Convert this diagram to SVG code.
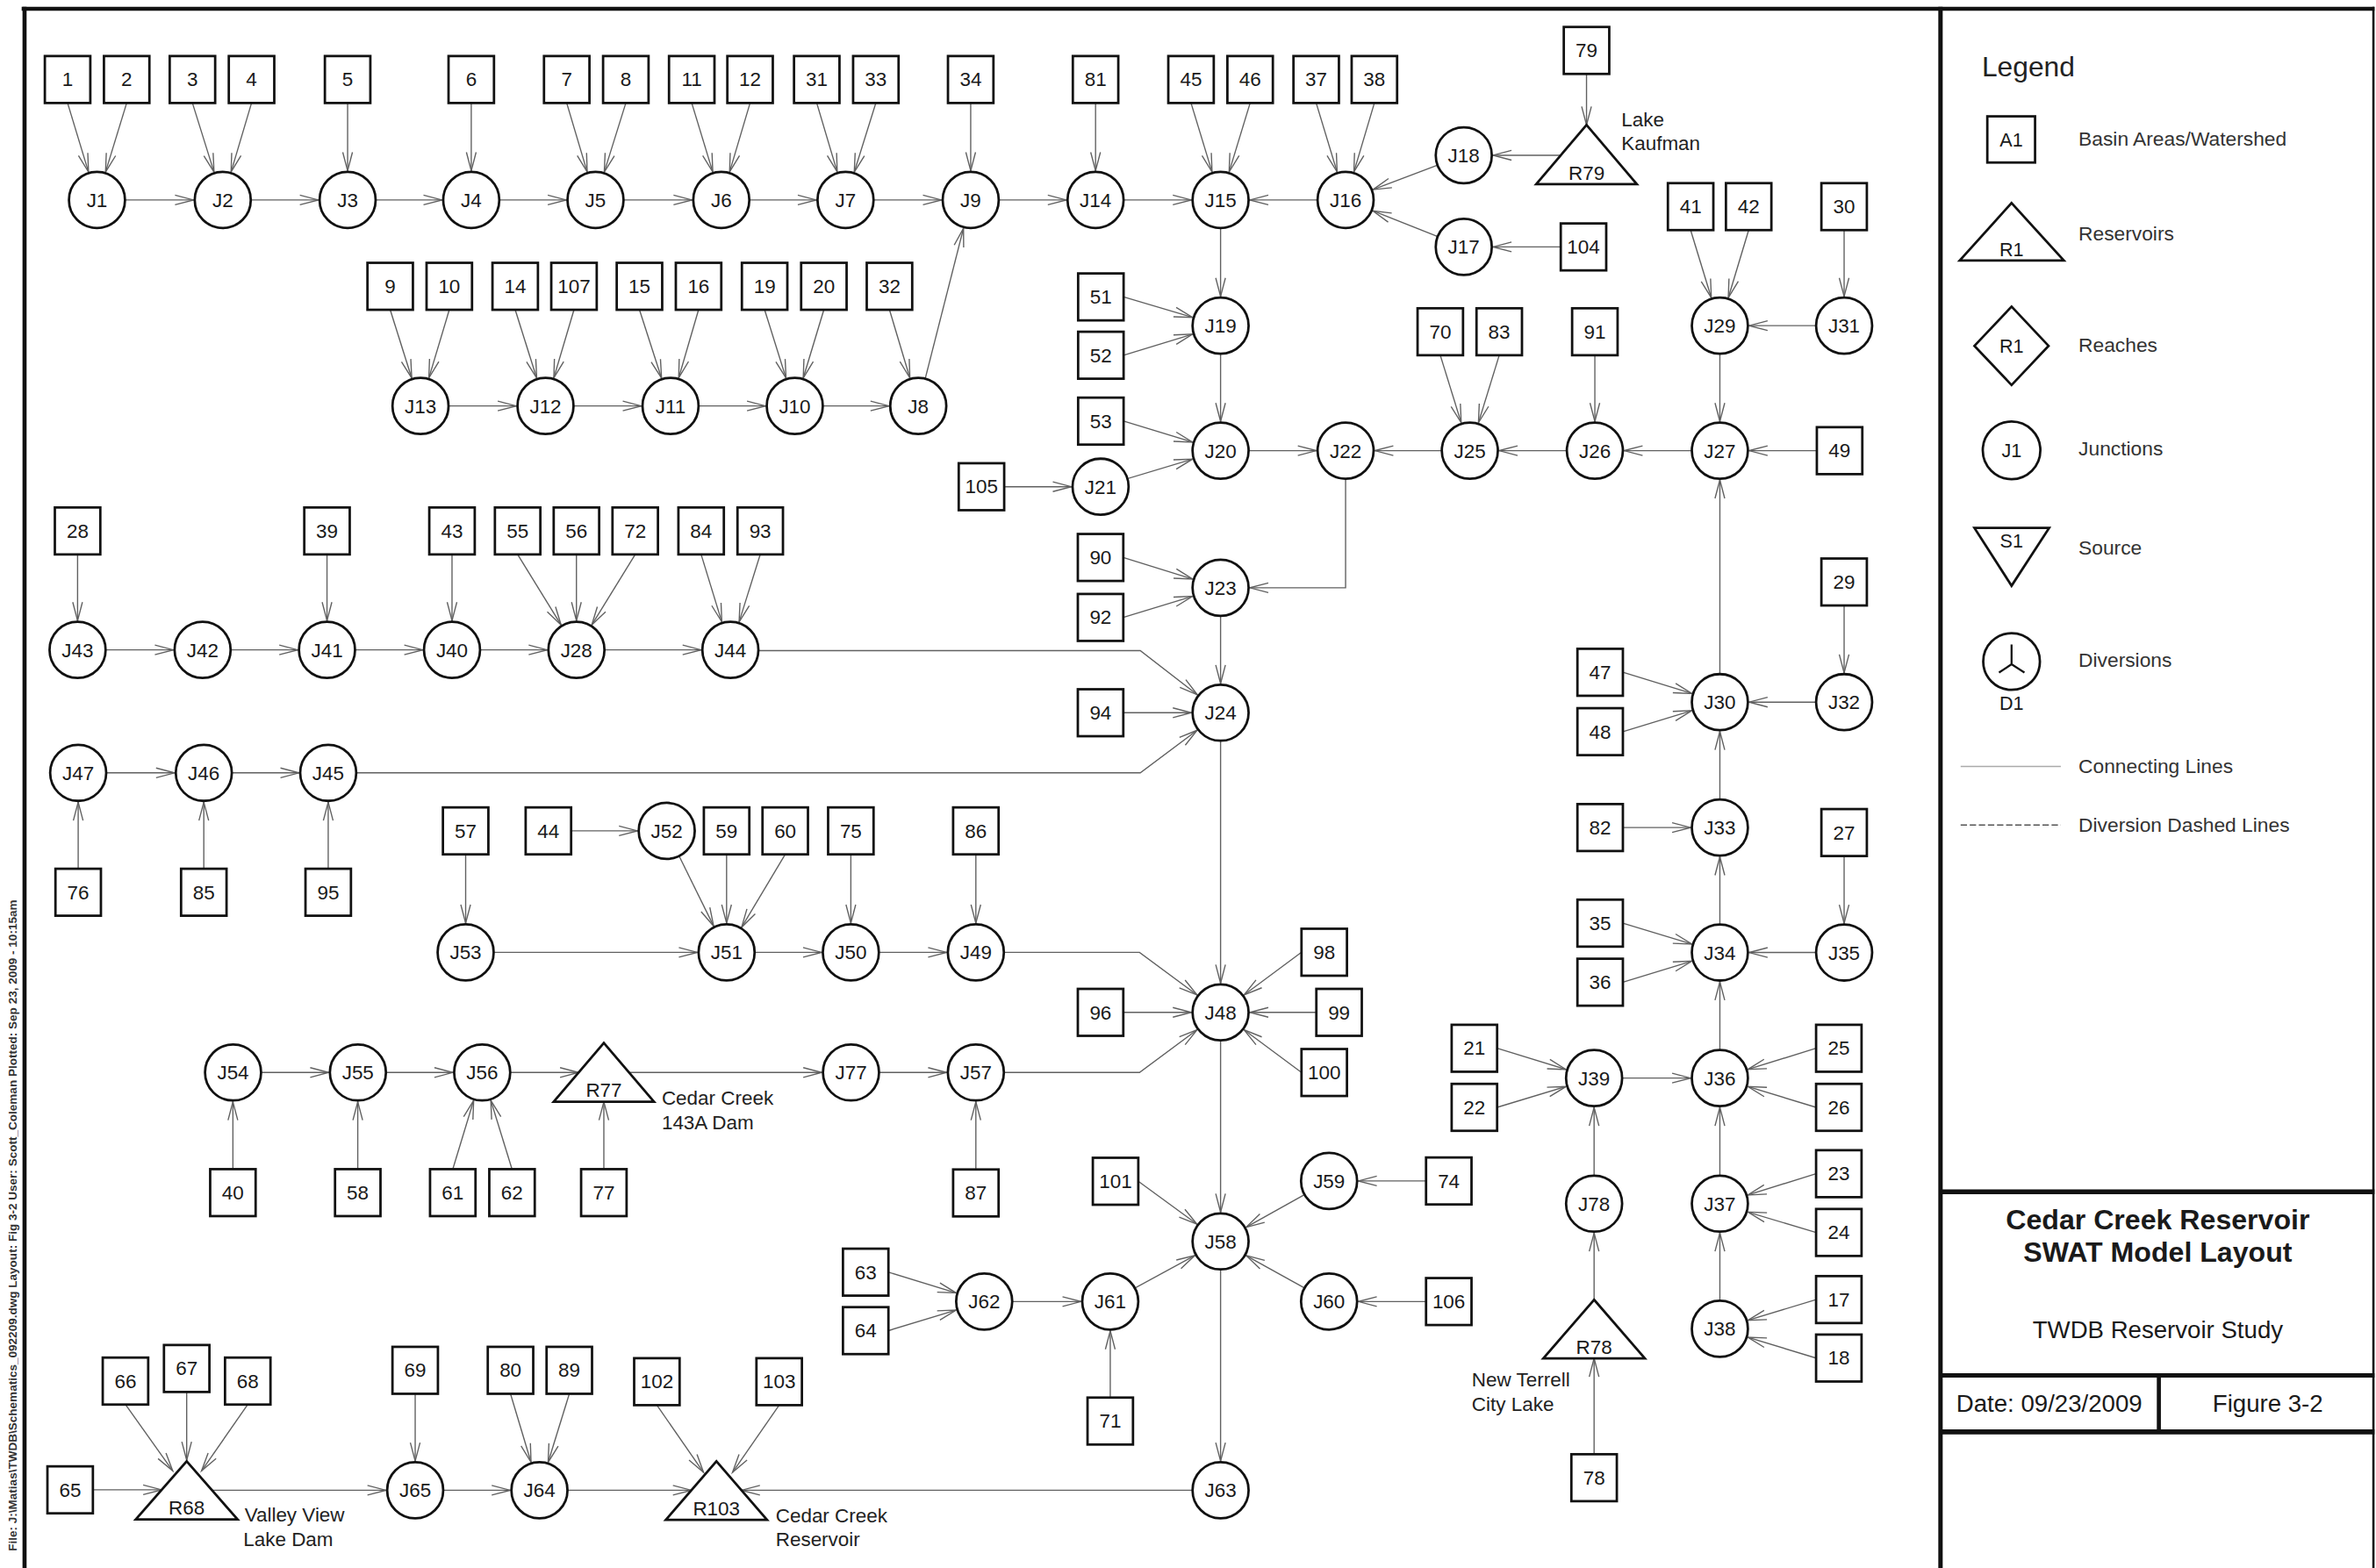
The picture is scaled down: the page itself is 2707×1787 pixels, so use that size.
<svg xmlns="http://www.w3.org/2000/svg" width="2707" height="1787" viewBox="0 0 2707 1787">
<style>
.b rect{fill:#fff;stroke:#111;stroke-width:1.6}
.j circle,.r polygon{fill:#fff;stroke:#111;stroke-width:1.6}
text{font-family:"Liberation Sans",Arial,sans-serif;font-size:13px;text-anchor:middle;fill:#1a1a1a}
.lbl{text-anchor:start;font-size:13px;fill:#222}
#conn line,#conn polyline{stroke:#606060;stroke-width:0.8;fill:none}
#conn .c{marker-end:url(#a)}
#conn .d{marker-end:url(#e)}
.fr{stroke:#111;fill:none}
.lg{text-anchor:start;font-size:13.2px;fill:#333}
</style>
<defs>
<marker id="a" markerUnits="userSpaceOnUse" orient="auto" markerWidth="1" markerHeight="1" refX="0" refY="0" style="overflow:visible"><path d="M-31.5,-3.2 L-19.3,0 L-31.5,3.2" fill="none" stroke="#606060" stroke-width="0.8"/></marker>
<marker id="e" markerUnits="userSpaceOnUse" orient="auto" markerWidth="1" markerHeight="1" refX="0" refY="0" style="overflow:visible"><path d="M-12.2,-3.2 L0,0 L-12.2,3.2" fill="none" stroke="#606060" stroke-width="0.8"/></marker>
</defs>
<rect x="0" y="0" width="2707" height="1787" fill="#fff"/>
<g transform="scale(1.7264)">
<g id="frame">
<line class="fr" x1="14.3" y1="5.8" x2="1567" y2="5.8" stroke-width="2.6"/>
<line class="fr" x1="16.2" y1="4.5" x2="16.2" y2="1040" stroke-width="2.7"/>
<line class="fr" x1="1280.6" y1="4.5" x2="1280.6" y2="1040" stroke-width="2.9"/>
<line class="fr" x1="1566.3" y1="4.5" x2="1566.3" y2="1040" stroke-width="1.5"/>
<line class="fr" x1="1280.6" y1="786.8" x2="1567" y2="786.8" stroke-width="3.2"/>
<line class="fr" x1="1280.6" y1="908" x2="1567" y2="908" stroke-width="2.9"/>
<line class="fr" x1="1280.6" y1="945.3" x2="1567" y2="945.3" stroke-width="3.3"/>
<line class="fr" x1="1424.7" y1="908" x2="1424.7" y2="945.3" stroke-width="2.7"/>
<text x="0" y="0" transform="translate(10.8,1024) rotate(-90)" style="text-anchor:start;font-size:7px;font-weight:bold;fill:#333" textLength="430" lengthAdjust="spacingAndGlyphs">File: J:\Matias\TWDB\Schematics_092209.dwg  Layout: Fig 3-2  User: Scott_Coleman  Plotted: Sep 23, 2009 - 10:15am</text>
</g>
<g id="conn">
<line class="c" x1="44.6" y1="68" x2="64" y2="132"/>
<line class="c" x1="83.6" y1="68" x2="64" y2="132"/>
<line class="c" x1="127" y1="68" x2="147" y2="132"/>
<line class="c" x1="166" y1="68" x2="147" y2="132"/>
<line class="c" x1="229.4" y1="68" x2="229.4" y2="132"/>
<line class="c" x1="311" y1="68" x2="311" y2="132"/>
<line class="c" x1="374" y1="68" x2="393" y2="132"/>
<line class="c" x1="413" y1="68" x2="393" y2="132"/>
<line class="c" x1="456.5" y1="68" x2="476" y2="132"/>
<line class="c" x1="495" y1="68" x2="476" y2="132"/>
<line class="c" x1="539" y1="68" x2="558" y2="132"/>
<line class="c" x1="578" y1="68" x2="558" y2="132"/>
<line class="c" x1="640.6" y1="68" x2="640.6" y2="132"/>
<line class="c" x1="723" y1="68" x2="723" y2="132"/>
<line class="c" x1="786" y1="68" x2="805.5" y2="132"/>
<line class="c" x1="825" y1="68" x2="805.5" y2="132"/>
<line class="c" x1="868.6" y1="68" x2="888" y2="132"/>
<line class="c" x1="907" y1="68" x2="888" y2="132"/>
<line class="c" x1="64" y1="132" x2="147" y2="132"/>
<line class="c" x1="147" y1="132" x2="229.4" y2="132"/>
<line class="c" x1="229.4" y1="132" x2="311" y2="132"/>
<line class="c" x1="311" y1="132" x2="393" y2="132"/>
<line class="c" x1="393" y1="132" x2="476" y2="132"/>
<line class="c" x1="476" y1="132" x2="558" y2="132"/>
<line class="c" x1="558" y1="132" x2="640.6" y2="132"/>
<line class="c" x1="640.6" y1="132" x2="723" y2="132"/>
<line class="c" x1="723" y1="132" x2="805.5" y2="132"/>
<line class="c" x1="888" y1="132" x2="805.5" y2="132"/>
<line class="d" x1="1047" y1="48.8" x2="1047" y2="82.5"/>
<line class="c" x1="1047" y1="102.5" x2="966" y2="102.5"/>
<line class="c" x1="966" y1="102.5" x2="888" y2="132"/>
<line class="c" x1="966" y1="163" x2="888" y2="132"/>
<line class="c" x1="1030" y1="163" x2="966" y2="163"/>
<line class="c" x1="257.5" y1="204.5" x2="277.5" y2="268"/>
<line class="c" x1="296.5" y1="204.5" x2="277.5" y2="268"/>
<line class="c" x1="340" y1="204.5" x2="360" y2="268"/>
<line class="c" x1="378.8" y1="204.5" x2="360" y2="268"/>
<line class="c" x1="422" y1="204.5" x2="442.5" y2="268"/>
<line class="c" x1="461" y1="204.5" x2="442.5" y2="268"/>
<line class="c" x1="504.6" y1="204.5" x2="524.5" y2="268"/>
<line class="c" x1="543.7" y1="204.5" x2="524.5" y2="268"/>
<line class="c" x1="587" y1="204.5" x2="606" y2="268"/>
<line class="c" x1="277.5" y1="268" x2="360" y2="268"/>
<line class="c" x1="360" y1="268" x2="442.5" y2="268"/>
<line class="c" x1="442.5" y1="268" x2="524.5" y2="268"/>
<line class="c" x1="524.5" y1="268" x2="606" y2="268"/>
<line class="c" x1="606" y1="268" x2="640.6" y2="132"/>
<line class="c" x1="805.5" y1="132" x2="805.5" y2="215"/>
<line class="c" x1="741.5" y1="196" x2="805.5" y2="215"/>
<line class="c" x1="741.5" y1="234.5" x2="805.5" y2="215"/>
<line class="c" x1="805.5" y1="215" x2="805.5" y2="297.5"/>
<line class="c" x1="741.5" y1="278" x2="805.5" y2="297.5"/>
<line class="c" x1="726.3" y1="321.3" x2="805.5" y2="297.5"/>
<line class="c" x1="662.7" y1="321.3" x2="726.3" y2="321.3"/>
<line class="c" x1="805.5" y1="297.5" x2="888" y2="297.5"/>
<line class="c" x1="970" y1="297.5" x2="888" y2="297.5"/>
<line class="c" x1="1052.5" y1="297.5" x2="970" y2="297.5"/>
<line class="c" x1="1135" y1="297.5" x2="1052.5" y2="297.5"/>
<line class="c" x1="1199" y1="297.5" x2="1135" y2="297.5"/>
<line class="c" x1="950.5" y1="234.5" x2="970" y2="297.5"/>
<line class="c" x1="989.4" y1="234.5" x2="970" y2="297.5"/>
<line class="c" x1="1052.5" y1="234.5" x2="1052.5" y2="297.5"/>
<line class="c" x1="1115.7" y1="151.9" x2="1135" y2="215"/>
<line class="c" x1="1154" y1="151.9" x2="1135" y2="215"/>
<line class="c" x1="1217" y1="151.9" x2="1217" y2="215"/>
<line class="c" x1="1217" y1="215" x2="1135" y2="215"/>
<line class="c" x1="1135" y1="215" x2="1135" y2="297.5"/>
<line class="c" x1="1135" y1="463.5" x2="1135" y2="297.5"/>
<polyline class="c" points="888,297.5 888,388 805.5,388"/>
<line class="c" x1="741.3" y1="368" x2="805.5" y2="388"/>
<line class="c" x1="741.3" y1="407.6" x2="805.5" y2="388"/>
<line class="c" x1="805.5" y1="388" x2="805.5" y2="470.5"/>
<line class="c" x1="741.3" y1="470.5" x2="805.5" y2="470.5"/>
<polyline class="c" points="482,429.5 752.5,429.5 805.5,470.5"/>
<polyline class="c" points="216.6,510.2 752.5,510.2 805.5,470.5"/>
<line class="c" x1="51.2" y1="429" x2="133.7" y2="429"/>
<line class="c" x1="133.7" y1="429" x2="215.8" y2="429"/>
<line class="c" x1="215.8" y1="429" x2="298.3" y2="429"/>
<line class="c" x1="298.3" y1="429" x2="380.4" y2="429"/>
<line class="c" x1="380.4" y1="429" x2="482" y2="429"/>
<line class="c" x1="51.2" y1="366" x2="51.2" y2="429"/>
<line class="c" x1="215.8" y1="366" x2="215.8" y2="429"/>
<line class="c" x1="298.3" y1="366" x2="298.3" y2="429"/>
<line class="c" x1="341.6" y1="366" x2="380.4" y2="429"/>
<line class="c" x1="380.4" y1="366" x2="380.4" y2="429"/>
<line class="c" x1="419.2" y1="366" x2="380.4" y2="429"/>
<line class="c" x1="462.7" y1="366" x2="482" y2="429"/>
<line class="c" x1="501.7" y1="366" x2="482" y2="429"/>
<line class="c" x1="51.6" y1="510.2" x2="134.5" y2="510.2"/>
<line class="c" x1="134.5" y1="510.2" x2="216.6" y2="510.2"/>
<line class="c" x1="51.6" y1="573.5" x2="51.6" y2="510.2"/>
<line class="c" x1="134.5" y1="573.5" x2="134.5" y2="510.2"/>
<line class="c" x1="216.6" y1="573.5" x2="216.6" y2="510.2"/>
<line class="c" x1="307.3" y1="564" x2="307.3" y2="628.7"/>
<line class="c" x1="376.9" y1="548.5" x2="440" y2="548.5"/>
<line class="c" x1="440" y1="548.5" x2="479.5" y2="628.7"/>
<line class="c" x1="479.5" y1="564" x2="479.5" y2="628.7"/>
<line class="c" x1="518.2" y1="564" x2="479.5" y2="628.7"/>
<line class="c" x1="561.5" y1="564" x2="561.5" y2="628.7"/>
<line class="c" x1="644" y1="564" x2="644" y2="628.7"/>
<line class="c" x1="307.3" y1="628.7" x2="479.5" y2="628.7"/>
<line class="c" x1="479.5" y1="628.7" x2="561.5" y2="628.7"/>
<line class="c" x1="561.5" y1="628.7" x2="644" y2="628.7"/>
<polyline class="c" points="644,628.7 752,628.7 805.5,668.3"/>
<line class="c" x1="805.5" y1="470.5" x2="805.5" y2="668.3"/>
<line class="c" x1="741.3" y1="668.3" x2="805.5" y2="668.3"/>
<line class="c" x1="858.9" y1="628.6" x2="805.5" y2="668.3"/>
<line class="c" x1="868.7" y1="668.3" x2="805.5" y2="668.3"/>
<line class="c" x1="858.9" y1="708" x2="805.5" y2="668.3"/>
<polyline class="c" points="644,708 752,708 805.5,668.3"/>
<line class="c" x1="153.8" y1="708" x2="236.2" y2="708"/>
<line class="c" x1="236.2" y1="708" x2="318.2" y2="708"/>
<line class="d" x1="318.2" y1="708" x2="381.8" y2="708"/>
<line class="c" x1="398.5" y1="708" x2="561.6" y2="708"/>
<line class="c" x1="561.6" y1="708" x2="644" y2="708"/>
<line class="c" x1="153.7" y1="771.8" x2="153.7" y2="708"/>
<line class="c" x1="236.1" y1="771.8" x2="236.1" y2="708"/>
<line class="c" x1="298.8" y1="771.8" x2="318.2" y2="708"/>
<line class="c" x1="337.9" y1="771.8" x2="318.2" y2="708"/>
<line class="d" x1="398.5" y1="771.8" x2="398.5" y2="727.3"/>
<line class="c" x1="644" y1="772" x2="644" y2="708"/>
<line class="c" x1="805.5" y1="668.3" x2="805.5" y2="819.5"/>
<line class="c" x1="751.2" y1="779.8" x2="805.5" y2="819.5"/>
<line class="c" x1="877.1" y1="779.6" x2="805.5" y2="819.5"/>
<line class="c" x1="941.1" y1="779.6" x2="877.1" y2="779.6"/>
<line class="c" x1="877.1" y1="859.2" x2="805.5" y2="819.5"/>
<line class="c" x1="941.1" y1="859.2" x2="877.1" y2="859.2"/>
<line class="c" x1="732.7" y1="859.2" x2="805.5" y2="819.5"/>
<line class="c" x1="649.5" y1="859.2" x2="732.7" y2="859.2"/>
<line class="c" x1="586.3" y1="839.8" x2="649.5" y2="859.2"/>
<line class="c" x1="586.3" y1="878.4" x2="649.5" y2="859.2"/>
<line class="c" x1="732.7" y1="922.6" x2="732.7" y2="859.2"/>
<line class="c" x1="805.5" y1="819.5" x2="805.5" y2="983.8"/>
<line class="d" x1="805.5" y1="983.8" x2="489.3" y2="983.8"/>
<line class="d" x1="356" y1="983.8" x2="456.3" y2="983.8"/>
<line class="d" x1="433.5" y1="927.6" x2="464.3" y2="972"/>
<line class="d" x1="514.2" y1="927.6" x2="483.4" y2="972"/>
<line class="c" x1="274" y1="983.8" x2="356" y2="983.8"/>
<line class="c" x1="123.2" y1="983.8" x2="274" y2="983.8"/>
<line class="d" x1="61.3" y1="983.5" x2="106.7" y2="983.5"/>
<line class="d" x1="82.8" y1="927.2" x2="114" y2="971"/>
<line class="d" x1="123.2" y1="918.9" x2="123.2" y2="964"/>
<line class="d" x1="163.5" y1="927.2" x2="133" y2="971"/>
<line class="c" x1="274" y1="920.1" x2="274" y2="983.8"/>
<line class="c" x1="336.9" y1="920.1" x2="356" y2="983.8"/>
<line class="c" x1="375.7" y1="920.1" x2="356" y2="983.8"/>
<line class="c" x1="1217" y1="399.7" x2="1217" y2="463.5"/>
<line class="c" x1="1217" y1="463.5" x2="1135" y2="463.5"/>
<line class="c" x1="1071" y1="443.8" x2="1135" y2="463.5"/>
<line class="c" x1="1071" y1="483" x2="1135" y2="463.5"/>
<line class="c" x1="1135" y1="546.3" x2="1135" y2="463.5"/>
<line class="c" x1="1071" y1="546.3" x2="1135" y2="546.3"/>
<line class="c" x1="1135" y1="628.8" x2="1135" y2="546.3"/>
<line class="c" x1="1071" y1="609.4" x2="1135" y2="628.8"/>
<line class="c" x1="1071" y1="648.4" x2="1135" y2="628.8"/>
<line class="c" x1="1217" y1="628.8" x2="1135" y2="628.8"/>
<line class="c" x1="1217" y1="565.1" x2="1217" y2="628.8"/>
<line class="c" x1="1135" y1="711.7" x2="1135" y2="628.8"/>
<line class="c" x1="988" y1="692" x2="1052" y2="711.7"/>
<line class="c" x1="988" y1="731" x2="1052" y2="711.7"/>
<line class="c" x1="1052" y1="711.7" x2="1135" y2="711.7"/>
<line class="c" x1="1198.5" y1="692" x2="1135" y2="711.7"/>
<line class="c" x1="1198.5" y1="731" x2="1135" y2="711.7"/>
<line class="c" x1="1135" y1="794.6" x2="1135" y2="711.7"/>
<line class="c" x1="1198.5" y1="774.8" x2="1135" y2="794.6"/>
<line class="c" x1="1198.5" y1="813.6" x2="1135" y2="794.6"/>
<line class="c" x1="1135" y1="877.2" x2="1135" y2="794.6"/>
<line class="c" x1="1198.5" y1="857.9" x2="1135" y2="877.2"/>
<line class="c" x1="1198.5" y1="896.5" x2="1135" y2="877.2"/>
<line class="c" x1="1052" y1="794.6" x2="1052" y2="711.7"/>
<line class="c" x1="1052" y1="877" x2="1052" y2="794.6"/>
<line class="d" x1="1052" y1="960" x2="1052" y2="896.7"/>
</g>
<g id="nodes">
<g id="n1" class="b"><rect x="29.6" y="37" width="30" height="31"/><text x="44.6" y="57">1</text></g>
<g id="n2" class="b"><rect x="68.6" y="37" width="30" height="31"/><text x="83.6" y="57">2</text></g>
<g id="n3" class="b"><rect x="112" y="37" width="30" height="31"/><text x="127" y="57">3</text></g>
<g id="n4" class="b"><rect x="151" y="37" width="30" height="31"/><text x="166" y="57">4</text></g>
<g id="n5" class="b"><rect x="214.4" y="37" width="30" height="31"/><text x="229.4" y="57">5</text></g>
<g id="n6" class="b"><rect x="296" y="37" width="30" height="31"/><text x="311" y="57">6</text></g>
<g id="n7" class="b"><rect x="359" y="37" width="30" height="31"/><text x="374" y="57">7</text></g>
<g id="n8" class="b"><rect x="398" y="37" width="30" height="31"/><text x="413" y="57">8</text></g>
<g id="n11" class="b"><rect x="441.5" y="37" width="30" height="31"/><text x="456.5" y="57">11</text></g>
<g id="n12" class="b"><rect x="480" y="37" width="30" height="31"/><text x="495" y="57">12</text></g>
<g id="n31" class="b"><rect x="524" y="37" width="30" height="31"/><text x="539" y="57">31</text></g>
<g id="n33" class="b"><rect x="563" y="37" width="30" height="31"/><text x="578" y="57">33</text></g>
<g id="n34" class="b"><rect x="625.6" y="37" width="30" height="31"/><text x="640.6" y="57">34</text></g>
<g id="n81" class="b"><rect x="708" y="37" width="30" height="31"/><text x="723" y="57">81</text></g>
<g id="n45" class="b"><rect x="771" y="37" width="30" height="31"/><text x="786" y="57">45</text></g>
<g id="n46" class="b"><rect x="810" y="37" width="30" height="31"/><text x="825" y="57">46</text></g>
<g id="n37" class="b"><rect x="853.6" y="37" width="30" height="31"/><text x="868.6" y="57">37</text></g>
<g id="n38" class="b"><rect x="892" y="37" width="30" height="31"/><text x="907" y="57">38</text></g>
<g id="n79" class="b"><rect x="1032" y="17.8" width="30" height="31"/><text x="1047" y="37.8">79</text></g>
<g id="n104" class="b"><rect x="1030" y="147.5" width="30" height="31"/><text x="1045" y="167.5">104</text></g>
<g id="n9" class="b"><rect x="242.5" y="173.5" width="30" height="31"/><text x="257.5" y="193.5">9</text></g>
<g id="n10" class="b"><rect x="281.5" y="173.5" width="30" height="31"/><text x="296.5" y="193.5">10</text></g>
<g id="n14" class="b"><rect x="325" y="173.5" width="30" height="31"/><text x="340" y="193.5">14</text></g>
<g id="n107" class="b"><rect x="363.8" y="173.5" width="30" height="31"/><text x="378.8" y="193.5">107</text></g>
<g id="n15" class="b"><rect x="407" y="173.5" width="30" height="31"/><text x="422" y="193.5">15</text></g>
<g id="n16" class="b"><rect x="446" y="173.5" width="30" height="31"/><text x="461" y="193.5">16</text></g>
<g id="n19" class="b"><rect x="489.6" y="173.5" width="30" height="31"/><text x="504.6" y="193.5">19</text></g>
<g id="n20" class="b"><rect x="528.7" y="173.5" width="30" height="31"/><text x="543.7" y="193.5">20</text></g>
<g id="n32" class="b"><rect x="572" y="173.5" width="30" height="31"/><text x="587" y="193.5">32</text></g>
<g id="n51" class="b"><rect x="711.5" y="180.5" width="30" height="31"/><text x="726.5" y="200.5">51</text></g>
<g id="n52" class="b"><rect x="711.5" y="219" width="30" height="31"/><text x="726.5" y="239">52</text></g>
<g id="n53" class="b"><rect x="711.5" y="262.5" width="30" height="31"/><text x="726.5" y="282.5">53</text></g>
<g id="n105" class="b"><rect x="632.7" y="305.8" width="30" height="31"/><text x="647.7" y="325.8">105</text></g>
<g id="n70" class="b"><rect x="935.5" y="203.5" width="30" height="31"/><text x="950.5" y="223.5">70</text></g>
<g id="n83" class="b"><rect x="974.4" y="203.5" width="30" height="31"/><text x="989.4" y="223.5">83</text></g>
<g id="n91" class="b"><rect x="1037.5" y="203.5" width="30" height="31"/><text x="1052.5" y="223.5">91</text></g>
<g id="n41" class="b"><rect x="1100.7" y="120.9" width="30" height="31"/><text x="1115.7" y="140.9">41</text></g>
<g id="n42" class="b"><rect x="1139" y="120.9" width="30" height="31"/><text x="1154" y="140.9">42</text></g>
<g id="n30" class="b"><rect x="1202" y="120.9" width="30" height="31"/><text x="1217" y="140.9">30</text></g>
<g id="n49" class="b"><rect x="1199" y="282" width="30" height="31"/><text x="1214" y="302">49</text></g>
<g id="n90" class="b"><rect x="711.3" y="352.5" width="30" height="31"/><text x="726.3" y="372.5">90</text></g>
<g id="n92" class="b"><rect x="711.3" y="392.1" width="30" height="31"/><text x="726.3" y="412.1">92</text></g>
<g id="n94" class="b"><rect x="711.3" y="455" width="30" height="31"/><text x="726.3" y="475">94</text></g>
<g id="n28" class="b"><rect x="36.2" y="335" width="30" height="31"/><text x="51.2" y="355">28</text></g>
<g id="n39" class="b"><rect x="200.8" y="335" width="30" height="31"/><text x="215.8" y="355">39</text></g>
<g id="n43" class="b"><rect x="283.3" y="335" width="30" height="31"/><text x="298.3" y="355">43</text></g>
<g id="n55" class="b"><rect x="326.6" y="335" width="30" height="31"/><text x="341.6" y="355">55</text></g>
<g id="n56" class="b"><rect x="365.4" y="335" width="30" height="31"/><text x="380.4" y="355">56</text></g>
<g id="n72" class="b"><rect x="404.2" y="335" width="30" height="31"/><text x="419.2" y="355">72</text></g>
<g id="n84" class="b"><rect x="447.7" y="335" width="30" height="31"/><text x="462.7" y="355">84</text></g>
<g id="n93" class="b"><rect x="486.7" y="335" width="30" height="31"/><text x="501.7" y="355">93</text></g>
<g id="n76" class="b"><rect x="36.6" y="573.5" width="30" height="31"/><text x="51.6" y="593.5">76</text></g>
<g id="n85" class="b"><rect x="119.5" y="573.5" width="30" height="31"/><text x="134.5" y="593.5">85</text></g>
<g id="n95" class="b"><rect x="201.6" y="573.5" width="30" height="31"/><text x="216.6" y="593.5">95</text></g>
<g id="n57" class="b"><rect x="292.3" y="533" width="30" height="31"/><text x="307.3" y="553">57</text></g>
<g id="n44" class="b"><rect x="346.9" y="533" width="30" height="31"/><text x="361.9" y="553">44</text></g>
<g id="n59" class="b"><rect x="464.5" y="533" width="30" height="31"/><text x="479.5" y="553">59</text></g>
<g id="n60" class="b"><rect x="503.2" y="533" width="30" height="31"/><text x="518.2" y="553">60</text></g>
<g id="n75" class="b"><rect x="546.5" y="533" width="30" height="31"/><text x="561.5" y="553">75</text></g>
<g id="n86" class="b"><rect x="629" y="533" width="30" height="31"/><text x="644" y="553">86</text></g>
<g id="n96" class="b"><rect x="711.3" y="652.8" width="30" height="31"/><text x="726.3" y="672.8">96</text></g>
<g id="n98" class="b"><rect x="858.9" y="613.1" width="30" height="31"/><text x="873.9" y="633.1">98</text></g>
<g id="n99" class="b"><rect x="868.7" y="652.8" width="30" height="31"/><text x="883.7" y="672.8">99</text></g>
<g id="n100" class="b"><rect x="858.9" y="692.5" width="30" height="31"/><text x="873.9" y="712.5">100</text></g>
<g id="n40" class="b"><rect x="138.7" y="771.8" width="30" height="31"/><text x="153.7" y="791.8">40</text></g>
<g id="n58" class="b"><rect x="221.1" y="771.8" width="30" height="31"/><text x="236.1" y="791.8">58</text></g>
<g id="n61" class="b"><rect x="283.8" y="771.8" width="30" height="31"/><text x="298.8" y="791.8">61</text></g>
<g id="n62" class="b"><rect x="322.9" y="771.8" width="30" height="31"/><text x="337.9" y="791.8">62</text></g>
<g id="n77" class="b"><rect x="383.5" y="771.8" width="30" height="31"/><text x="398.5" y="791.8">77</text></g>
<g id="n87" class="b"><rect x="629" y="772" width="30" height="31"/><text x="644" y="792">87</text></g>
<g id="n101" class="b"><rect x="721.2" y="764.3" width="30" height="31"/><text x="736.2" y="784.3">101</text></g>
<g id="n74" class="b"><rect x="941.1" y="764.1" width="30" height="31"/><text x="956.1" y="784.1">74</text></g>
<g id="n106" class="b"><rect x="941.1" y="843.7" width="30" height="31"/><text x="956.1" y="863.7">106</text></g>
<g id="n63" class="b"><rect x="556.3" y="824.3" width="30" height="31"/><text x="571.3" y="844.3">63</text></g>
<g id="n64" class="b"><rect x="556.3" y="862.9" width="30" height="31"/><text x="571.3" y="882.9">64</text></g>
<g id="n71" class="b"><rect x="717.7" y="922.6" width="30" height="31"/><text x="732.7" y="942.6">71</text></g>
<g id="n66" class="b"><rect x="67.8" y="896.2" width="30" height="31"/><text x="82.8" y="916.2">66</text></g>
<g id="n67" class="b"><rect x="108.2" y="887.9" width="30" height="31"/><text x="123.2" y="907.9">67</text></g>
<g id="n68" class="b"><rect x="148.5" y="896.2" width="30" height="31"/><text x="163.5" y="916.2">68</text></g>
<g id="n65" class="b"><rect x="31.3" y="968" width="30" height="31"/><text x="46.3" y="988">65</text></g>
<g id="n69" class="b"><rect x="259" y="889.1" width="30" height="31"/><text x="274" y="909.1">69</text></g>
<g id="n80" class="b"><rect x="321.9" y="889.1" width="30" height="31"/><text x="336.9" y="909.1">80</text></g>
<g id="n89" class="b"><rect x="360.7" y="889.1" width="30" height="31"/><text x="375.7" y="909.1">89</text></g>
<g id="n102" class="b"><rect x="418.5" y="896.6" width="30" height="31"/><text x="433.5" y="916.6">102</text></g>
<g id="n103" class="b"><rect x="499.2" y="896.6" width="30" height="31"/><text x="514.2" y="916.6">103</text></g>
<g id="n29" class="b"><rect x="1202" y="368.7" width="30" height="31"/><text x="1217" y="388.7">29</text></g>
<g id="n47" class="b"><rect x="1041" y="428.3" width="30" height="31"/><text x="1056" y="448.3">47</text></g>
<g id="n48" class="b"><rect x="1041" y="467.5" width="30" height="31"/><text x="1056" y="487.5">48</text></g>
<g id="n82" class="b"><rect x="1041" y="530.8" width="30" height="31"/><text x="1056" y="550.8">82</text></g>
<g id="n27" class="b"><rect x="1202" y="534.1" width="30" height="31"/><text x="1217" y="554.1">27</text></g>
<g id="n35" class="b"><rect x="1041" y="593.9" width="30" height="31"/><text x="1056" y="613.9">35</text></g>
<g id="n36" class="b"><rect x="1041" y="632.9" width="30" height="31"/><text x="1056" y="652.9">36</text></g>
<g id="n21" class="b"><rect x="958" y="676.5" width="30" height="31"/><text x="973" y="696.5">21</text></g>
<g id="n22" class="b"><rect x="958" y="715.5" width="30" height="31"/><text x="973" y="735.5">22</text></g>
<g id="n25" class="b"><rect x="1198.5" y="676.5" width="30" height="31"/><text x="1213.5" y="696.5">25</text></g>
<g id="n26" class="b"><rect x="1198.5" y="715.5" width="30" height="31"/><text x="1213.5" y="735.5">26</text></g>
<g id="n23" class="b"><rect x="1198.5" y="759.3" width="30" height="31"/><text x="1213.5" y="779.3">23</text></g>
<g id="n24" class="b"><rect x="1198.5" y="798.1" width="30" height="31"/><text x="1213.5" y="818.1">24</text></g>
<g id="n17" class="b"><rect x="1198.5" y="842.4" width="30" height="31"/><text x="1213.5" y="862.4">17</text></g>
<g id="n18" class="b"><rect x="1198.5" y="881" width="30" height="31"/><text x="1213.5" y="901">18</text></g>
<g id="n78" class="b"><rect x="1037" y="960" width="30" height="31"/><text x="1052" y="980">78</text></g>

<g id="J1" class="j"><circle cx="64" cy="132" r="18.5"/><text x="64" y="136.6">J1</text></g>
<g id="J2" class="j"><circle cx="147" cy="132" r="18.5"/><text x="147" y="136.6">J2</text></g>
<g id="J3" class="j"><circle cx="229.4" cy="132" r="18.5"/><text x="229.4" y="136.6">J3</text></g>
<g id="J4" class="j"><circle cx="311" cy="132" r="18.5"/><text x="311" y="136.6">J4</text></g>
<g id="J5" class="j"><circle cx="393" cy="132" r="18.5"/><text x="393" y="136.6">J5</text></g>
<g id="J6" class="j"><circle cx="476" cy="132" r="18.5"/><text x="476" y="136.6">J6</text></g>
<g id="J7" class="j"><circle cx="558" cy="132" r="18.5"/><text x="558" y="136.6">J7</text></g>
<g id="J9" class="j"><circle cx="640.6" cy="132" r="18.5"/><text x="640.6" y="136.6">J9</text></g>
<g id="J14" class="j"><circle cx="723" cy="132" r="18.5"/><text x="723" y="136.6">J14</text></g>
<g id="J15" class="j"><circle cx="805.5" cy="132" r="18.5"/><text x="805.5" y="136.6">J15</text></g>
<g id="J16" class="j"><circle cx="888" cy="132" r="18.5"/><text x="888" y="136.6">J16</text></g>
<g id="J18" class="j"><circle cx="966" cy="102.5" r="18.5"/><text x="966" y="107.1">J18</text></g>
<g id="J17" class="j"><circle cx="966" cy="163" r="18.5"/><text x="966" y="167.6">J17</text></g>
<g id="J13" class="j"><circle cx="277.5" cy="268" r="18.5"/><text x="277.5" y="272.6">J13</text></g>
<g id="J12" class="j"><circle cx="360" cy="268" r="18.5"/><text x="360" y="272.6">J12</text></g>
<g id="J11" class="j"><circle cx="442.5" cy="268" r="18.5"/><text x="442.5" y="272.6">J11</text></g>
<g id="J10" class="j"><circle cx="524.5" cy="268" r="18.5"/><text x="524.5" y="272.6">J10</text></g>
<g id="J8" class="j"><circle cx="606" cy="268" r="18.5"/><text x="606" y="272.6">J8</text></g>
<g id="J19" class="j"><circle cx="805.5" cy="215" r="18.5"/><text x="805.5" y="219.6">J19</text></g>
<g id="J20" class="j"><circle cx="805.5" cy="297.5" r="18.5"/><text x="805.5" y="302.1">J20</text></g>
<g id="J21" class="j"><circle cx="726.3" cy="321.3" r="18.5"/><text x="726.3" y="325.9">J21</text></g>
<g id="J22" class="j"><circle cx="888" cy="297.5" r="18.5"/><text x="888" y="302.1">J22</text></g>
<g id="J25" class="j"><circle cx="970" cy="297.5" r="18.5"/><text x="970" y="302.1">J25</text></g>
<g id="J26" class="j"><circle cx="1052.5" cy="297.5" r="18.5"/><text x="1052.5" y="302.1">J26</text></g>
<g id="J27" class="j"><circle cx="1135" cy="297.5" r="18.5"/><text x="1135" y="302.1">J27</text></g>
<g id="J29" class="j"><circle cx="1135" cy="215" r="18.5"/><text x="1135" y="219.6">J29</text></g>
<g id="J31" class="j"><circle cx="1217" cy="215" r="18.5"/><text x="1217" y="219.6">J31</text></g>
<g id="J23" class="j"><circle cx="805.5" cy="388" r="18.5"/><text x="805.5" y="392.6">J23</text></g>
<g id="J24" class="j"><circle cx="805.5" cy="470.5" r="18.5"/><text x="805.5" y="475.1">J24</text></g>
<g id="J43" class="j"><circle cx="51.2" cy="429" r="18.5"/><text x="51.2" y="433.6">J43</text></g>
<g id="J42" class="j"><circle cx="133.7" cy="429" r="18.5"/><text x="133.7" y="433.6">J42</text></g>
<g id="J41" class="j"><circle cx="215.8" cy="429" r="18.5"/><text x="215.8" y="433.6">J41</text></g>
<g id="J40" class="j"><circle cx="298.3" cy="429" r="18.5"/><text x="298.3" y="433.6">J40</text></g>
<g id="J28" class="j"><circle cx="380.4" cy="429" r="18.5"/><text x="380.4" y="433.6">J28</text></g>
<g id="J44" class="j"><circle cx="482" cy="429" r="18.5"/><text x="482" y="433.6">J44</text></g>
<g id="J47" class="j"><circle cx="51.6" cy="510.2" r="18.5"/><text x="51.6" y="514.8">J47</text></g>
<g id="J46" class="j"><circle cx="134.5" cy="510.2" r="18.5"/><text x="134.5" y="514.8">J46</text></g>
<g id="J45" class="j"><circle cx="216.6" cy="510.2" r="18.5"/><text x="216.6" y="514.8">J45</text></g>
<g id="J52" class="j"><circle cx="440" cy="548.5" r="18.5"/><text x="440" y="553.1">J52</text></g>
<g id="J53" class="j"><circle cx="307.3" cy="628.7" r="18.5"/><text x="307.3" y="633.3">J53</text></g>
<g id="J51" class="j"><circle cx="479.5" cy="628.7" r="18.5"/><text x="479.5" y="633.3">J51</text></g>
<g id="J50" class="j"><circle cx="561.5" cy="628.7" r="18.5"/><text x="561.5" y="633.3">J50</text></g>
<g id="J49" class="j"><circle cx="644" cy="628.7" r="18.5"/><text x="644" y="633.3">J49</text></g>
<g id="J48" class="j"><circle cx="805.5" cy="668.3" r="18.5"/><text x="805.5" y="672.9">J48</text></g>
<g id="J54" class="j"><circle cx="153.8" cy="708" r="18.5"/><text x="153.8" y="712.6">J54</text></g>
<g id="J55" class="j"><circle cx="236.2" cy="708" r="18.5"/><text x="236.2" y="712.6">J55</text></g>
<g id="J56" class="j"><circle cx="318.2" cy="708" r="18.5"/><text x="318.2" y="712.6">J56</text></g>
<g id="J77" class="j"><circle cx="561.6" cy="708" r="18.5"/><text x="561.6" y="712.6">J77</text></g>
<g id="J57" class="j"><circle cx="644" cy="708" r="18.5"/><text x="644" y="712.6">J57</text></g>
<g id="J58" class="j"><circle cx="805.5" cy="819.5" r="18.5"/><text x="805.5" y="824.1">J58</text></g>
<g id="J59" class="j"><circle cx="877.1" cy="779.6" r="18.5"/><text x="877.1" y="784.2">J59</text></g>
<g id="J60" class="j"><circle cx="877.1" cy="859.2" r="18.5"/><text x="877.1" y="863.8">J60</text></g>
<g id="J61" class="j"><circle cx="732.7" cy="859.2" r="18.5"/><text x="732.7" y="863.8">J61</text></g>
<g id="J62" class="j"><circle cx="649.5" cy="859.2" r="18.5"/><text x="649.5" y="863.8">J62</text></g>
<g id="J63" class="j"><circle cx="805.5" cy="983.8" r="18.5"/><text x="805.5" y="988.4">J63</text></g>
<g id="J65" class="j"><circle cx="274" cy="983.8" r="18.5"/><text x="274" y="988.4">J65</text></g>
<g id="J64" class="j"><circle cx="356" cy="983.8" r="18.5"/><text x="356" y="988.4">J64</text></g>
<g id="J30" class="j"><circle cx="1135" cy="463.5" r="18.5"/><text x="1135" y="468.1">J30</text></g>
<g id="J32" class="j"><circle cx="1217" cy="463.5" r="18.5"/><text x="1217" y="468.1">J32</text></g>
<g id="J33" class="j"><circle cx="1135" cy="546.3" r="18.5"/><text x="1135" y="550.9">J33</text></g>
<g id="J34" class="j"><circle cx="1135" cy="628.8" r="18.5"/><text x="1135" y="633.4">J34</text></g>
<g id="J35" class="j"><circle cx="1217" cy="628.8" r="18.5"/><text x="1217" y="633.4">J35</text></g>
<g id="J39" class="j"><circle cx="1052" cy="711.7" r="18.5"/><text x="1052" y="716.3">J39</text></g>
<g id="J36" class="j"><circle cx="1135" cy="711.7" r="18.5"/><text x="1135" y="716.3">J36</text></g>
<g id="J78" class="j"><circle cx="1052" cy="794.6" r="18.5"/><text x="1052" y="799.2">J78</text></g>
<g id="J37" class="j"><circle cx="1135" cy="794.6" r="18.5"/><text x="1135" y="799.2">J37</text></g>
<g id="J38" class="j"><circle cx="1135" cy="877.2" r="18.5"/><text x="1135" y="881.8">J38</text></g>

<g id="R79" class="r"><polygon points="1047,82.5 1080.2,121.5 1013.8,121.5"/><text x="1047" y="118.5">R79</text><text class="lbl" x="1070" y="83.5">Lake</text><text class="lbl" x="1070" y="99">Kaufman</text></g>
<g id="R77" class="r"><polygon points="398.5,688.5 431.6,727.3 365.4,727.3"/><text x="398.5" y="724.3">R77</text><text class="lbl" x="436.7" y="729.5">Cedar Creek</text><text class="lbl" x="436.7" y="745.3">143A Dam</text></g>
<g id="R68" class="r"><polygon points="123.2,964.7 156.8,1003 89.6,1003"/><text x="123.2" y="1000">R68</text><text class="lbl" x="161.4" y="1004.2">Valley View</text><text class="lbl" x="160.6" y="1020.6">Lake Dam</text></g>
<g id="R103" class="r"><polygon points="472.8,964.7 506.2,1003.3 439.4,1003.3"/><text x="472.8" y="1000.3">R103</text><text class="lbl" x="511.9" y="1005">Cedar Creek</text><text class="lbl" x="511.9" y="1020.6">Reservoir</text></g>
<g id="R78" class="r"><polygon points="1052,858 1085.5,896.7 1018.5,896.7"/><text x="1052" y="893.5">R78</text><text class="lbl" x="971.3" y="915">New Terrell</text><text class="lbl" x="971.3" y="931.4">City Lake</text></g>
</g>
<g id="legend">
<text x="1307.9" y="50.5" style="text-anchor:start;font-size:18.4px;fill:#222">Legend</text>
<rect x="1311.5" y="76.8" width="31.5" height="30.5" fill="#fff" stroke="#111" stroke-width="1.6"/>
<text x="1327.3" y="96.5" style="font-size:12.5px">A1</text>
<text class="lg" x="1371.7" y="96.3">Basin Areas/Watershed</text>
<polygon points="1327.5,134 1362,172 1293.3,172" fill="#fff" stroke="#111" stroke-width="1.6"/>
<text x="1327.5" y="169" style="font-size:12.5px">R1</text>
<text class="lg" x="1371.7" y="158.9">Reservoirs</text>
<polygon points="1327.5,202.4 1351.9,228.3 1327.5,254.2 1303,228.3" fill="#fff" stroke="#111" stroke-width="1.6"/>
<text x="1327.5" y="232.7" style="font-size:12.5px">R1</text>
<text class="lg" x="1371.7" y="232.2">Reaches</text>
<circle cx="1327.5" cy="297.3" r="19" fill="#fff" stroke="#111" stroke-width="1.6"/>
<text x="1327.5" y="301.7" style="font-size:12.5px">J1</text>
<text class="lg" x="1371.7" y="300.6">Junctions</text>
<polygon points="1303,348.5 1352.3,348.5 1327.5,386.7" fill="#fff" stroke="#111" stroke-width="1.6"/>
<text x="1327.5" y="361.4" style="font-size:12.5px">S1</text>
<text class="lg" x="1371.7" y="366.1">Source</text>
<circle cx="1327.5" cy="436.7" r="18.7" fill="#fff" stroke="#111" stroke-width="1.6"/>
<path d="M1327.5,425.5 L1327.5,438.5 M1327.5,438.5 L1319.2,444 M1327.5,438.5 L1336,444" fill="none" stroke="#111" stroke-width="1.3"/>
<text x="1327.5" y="468.8" style="font-size:12.5px">D1</text>
<text class="lg" x="1371.7" y="440.5">Diversions</text>
<line x1="1293.9" y1="506" x2="1360" y2="506" stroke="#aaa" stroke-width="0.8"/>
<text class="lg" x="1371.7" y="510.6">Connecting Lines</text>
<line x1="1293.9" y1="544.6" x2="1360" y2="544.6" stroke="#555" stroke-width="0.8" stroke-dasharray="4.2 1.8"/>
<text class="lg" x="1371.7" y="549.2">Diversion Dashed Lines</text>
</g>
<g id="title">
<text x="1424" y="811.7" style="font-size:18.6px;font-weight:bold">Cedar Creek Reservoir</text>
<text x="1424" y="833" style="font-size:18.6px;font-weight:bold">SWAT Model Layout</text>
<text x="1424" y="883.6" style="font-size:16px">TWDB Reservoir Study</text>
<text x="1291" y="931.8" style="font-size:16px;text-anchor:start">Date: 09/23/2009</text>
<text x="1496.6" y="931.8" style="font-size:16px">Figure 3-2</text>
</g>
</g>
</svg>
